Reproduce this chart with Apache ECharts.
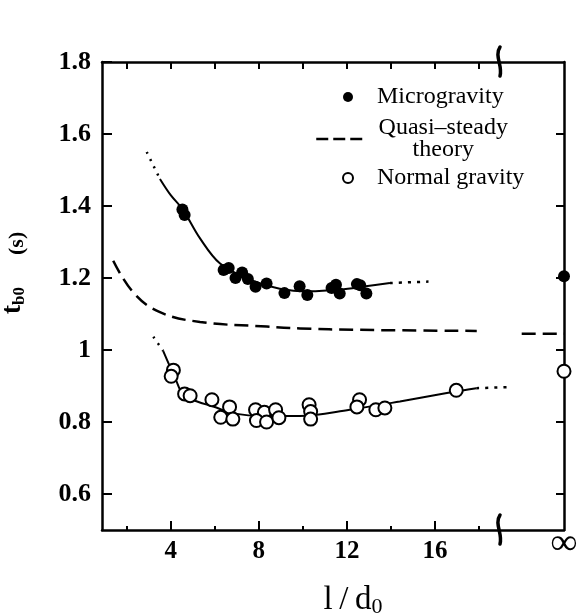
<!DOCTYPE html>
<html><head><meta charset="utf-8">
<script src="https://cdn.jsdelivr.net/npm/echarts@6/dist/echarts.min.js"></script>
<style>html,body{margin:0;padding:0;background:#fff}#c{width:579px;height:613px}</style>
</head><body><div id="c"></div>
<script>
// ---- data ----
const X_MIN = 0.88, X_MAX = 21.85;     // X_MAX is the "∞" column
const Y_MIN = 0.5, Y_MAX = 1.8;
const xTickLabels = [4, 8, 12, 16];
const xMajorTicks = [4, 8, 12, 16];
const xMinorTicks = [2, 6, 10, 14, 18];
const xTopTicks = [2, 4, 6, 8, 10, 12, 14, 16, 18];
const yTicks = [0.6, 0.8, 1, 1.2, 1.4, 1.6, 1.8];
const breakAt = 18.9;

const mgX = [4.53,4.63,6.40,6.63,6.94,7.24,7.50,7.85,8.35,9.16,9.85,10.2,11.3,11.5,11.67,12.45,12.6,12.88];
const mgY = [1.39,1.375,1.222,1.228,1.20,1.215,1.197,1.176,1.185,1.158,1.177,1.153,1.172,1.181,1.157,1.183,1.18,1.157];
const mgInfY = 1.205;

const ngX = [4.12,4.02,4.63,4.88,5.87,6.67,6.27,6.82,7.85,8.25,8.76,7.89,8.35,8.91,10.28,10.35,10.35,12.57,12.45,13.31,13.72,16.96];
const ngY = [0.944,0.927,0.878,0.873,0.862,0.842,0.813,0.808,0.834,0.827,0.834,0.804,0.80,0.812,0.848,0.829,0.808,0.862,0.842,0.834,0.839,0.888];
const ngInfY = 0.941;

const mgFitDotLX = [2.91, 3.51], mgFitDotLY = [1.55, 1.475];
const mgFitX = [3.51,4.0,4.55,5.33,6.24,7.54,8.95,10.3,11.7,12.85,13.95];
const mgFitY = [1.475,1.43,1.39,1.31,1.24,1.197,1.17,1.163,1.168,1.177,1.186];
const mgFitDotRX = [13.95, 15.7], mgFitDotRY = [1.186, 1.19];

const ngFitDotLX = [3.21, 3.66], ngFitDotLY = [1.037, 0.997];
const ngFitX = [3.66,4.22,4.57,5.2,5.93,6.84,8.3,9.85,12.12,14.4,16.66,17.87];
const ngFitY = [0.997,0.919,0.876,0.857,0.843,0.824,0.817,0.817,0.834,0.857,0.882,0.894];
const ngFitDotRX = [17.87, 19.4], ngFitDotRY = [0.894, 0.897];

const thLeftX = [1.39,2.30,3.51,5.33,8.36,9.87,12.5,17.89];
const thLeftY = [1.248,1.16,1.105,1.078,1.065,1.06,1.056,1.053];
const thRightX = [19.93, 21.85];
const thRightY = [1.045, 1.045];

// ---- helpers ----
const zip = (xs, ys) => xs.map((x, i) => [x, ys[i]]);
const FONT = 'Liberation Serif';
const BLACK = '#000';

const chart = echarts.init(document.getElementById('c'), null, {renderer: 'canvas'});

const fitLine = (data, type, width) => ({
  type: 'line', data, smooth: 0.35, symbol: 'none',
  lineStyle: {color: BLACK, width, type}, silent: true, z: 2, xAxisIndex: 0, yAxisIndex: 0
});

const baseX = {type: 'value', min: X_MIN, max: X_MAX, splitLine: {show: false}};
const option = {
  animation: false,
  backgroundColor: '#fff',
  grid: {left: 102, right: 15, top: 62, bottom: 83, containLabel: false, outerBoundsMode: 'none'},
  xAxis: [
    Object.assign({}, baseX, {
      position: 'bottom',
      name: '{m|l\u2009/\u2009d}{s|0}',
      nameLocation: 'middle', nameGap: 52,
      nameTextStyle: {padding: [0, 0, 0, 40], rich: {
        m: {fontFamily: FONT, fontSize: 33, lineHeight: 36, color: BLACK},
        s: {fontFamily: FONT, fontSize: 22, lineHeight: 22, verticalAlign: 'bottom', color: BLACK}
      }},
      axisLine: {show: true, lineStyle: {color: BLACK, width: 2.5}},
      axisTick: {show: true, inside: true, length: 9, customValues: xMajorTicks, lineStyle: {color: BLACK, width: 2}},
      axisLabel: {
        customValues: xTickLabels.concat([X_MAX]),
        formatter: v => (v === X_MAX ? '{inf|\u221E}' : String(v)),
        fontFamily: FONT, fontSize: 25, fontWeight: 'bold', color: BLACK, margin: 9,
        rich: {inf: {fontFamily: FONT, fontSize: 37, lineHeight: 10, fontWeight: 'bold', color: BLACK}}
      }
    }),
    Object.assign({}, baseX, {
      position: 'bottom',
      axisLine: {show: false},
      axisTick: {show: true, inside: true, length: 4, customValues: xMinorTicks, lineStyle: {color: BLACK, width: 2}},
      axisLabel: {show: false}
    }),
    Object.assign({}, baseX, {
      position: 'top',
      axisLine: {show: true, lineStyle: {color: BLACK, width: 2.5}},
      axisTick: {show: true, inside: true, length: 7, customValues: xTopTicks, lineStyle: {color: BLACK, width: 2}},
      axisLabel: {show: false}
    })
  ],
  yAxis: [
    {
      type: 'value', min: Y_MIN, max: Y_MAX, position: 'left',
      name: '{t|t}{s|b0}{g| }{p|(s)}',
      nameLocation: 'middle', nameRotate: 90, nameGap: 74,
      nameTextStyle: {padding: [0, 0, 0, 46], rich: {
        t: {fontFamily: FONT, fontSize: 28, lineHeight: 30, fontWeight: 'bold', color: BLACK},
        s: {fontFamily: FONT, fontSize: 17, lineHeight: 17, verticalAlign: 'bottom', fontWeight: 'bold', color: BLACK},
        g: {width: 32, fontSize: 10},
        p: {fontFamily: FONT, fontSize: 22, lineHeight: 22, verticalAlign: 'bottom', fontWeight: 'bold', color: BLACK}
      }},
      splitLine: {show: false},
      axisLine: {show: true, lineStyle: {color: BLACK, width: 2.5}},
      axisTick: {show: true, inside: true, length: 10, customValues: yTicks, lineStyle: {color: BLACK, width: 2}},
      axisLabel: {customValues: yTicks, formatter: v => String(v),
        fontFamily: FONT, fontSize: 26, fontWeight: 'bold', color: BLACK, margin: 11}
    },
    {
      type: 'value', min: Y_MIN, max: Y_MAX, position: 'right',
      splitLine: {show: false},
      axisLine: {show: true, lineStyle: {color: BLACK, width: 2.5}},
      axisTick: {show: true, inside: true, length: 8, customValues: yTicks.slice(0, -1), lineStyle: {color: BLACK, width: 2}},
      axisLabel: {show: false}
    }
  ],
  legend: [
    {
      data: ['Microgravity'], left: 338, top: 80, selectedMode: false,
      itemWidth: 48, itemHeight: 10,
      itemStyle: {color: BLACK, borderWidth: 0, opacity: 1},
      textStyle: {fontFamily: FONT, fontSize: 24, lineHeight: 24, color: BLACK}
    },
    {
      data: ['Quasi\u2013steady theory'], left: 310, top: 111, selectedMode: false,
      itemWidth: 47, itemHeight: 10,
      itemStyle: {color: 'rgba(0,0,0,0)', borderWidth: 0, opacity: 0},
      lineStyle: {color: BLACK, width: 2.5, type: [12, 5]},
      formatter: () => '{c|Quasi\u2013steady}\n{c|theory}',
      textStyle: {fontFamily: FONT, fontSize: 24, color: BLACK, rich: {
        c: {fontFamily: FONT, fontSize: 24, lineHeight: 22, width: 150, align: 'center', color: BLACK}
      }}
    },
    {
      data: ['Normal gravity'], left: 337, top: 161, selectedMode: false,
      itemWidth: 48, itemHeight: 10,
      itemStyle: {color: '#fff', borderColor: BLACK, borderWidth: 2, opacity: 1},
      textStyle: {fontFamily: FONT, fontSize: 24, lineHeight: 24, color: BLACK}
    }
  ],
  series: [
    fitLine(zip(mgFitDotLX, mgFitDotLY), [2, 6], 2.5),
    fitLine(zip(mgFitX, mgFitY), 'solid', 2),
    fitLine(zip(mgFitDotRX, mgFitDotRY), [3, 6], 2.5),
    fitLine(zip(ngFitDotLX, ngFitDotLY), [2, 6], 2.5),
    fitLine(zip(ngFitX, ngFitY), 'solid', 2),
    fitLine(zip(ngFitDotRX, ngFitDotRY), [3, 6], 2.5),
    {
      name: 'Quasi\u2013steady theory', type: 'line', smooth: 0.4, symbol: 'none',
      connectNulls: false, clip: false,
      data: zip(thLeftX, thLeftY).concat([['-', '-']], zip(thRightX, thRightY)),
      itemStyle: {color: BLACK},
      lineStyle: {color: BLACK, width: 2.5, type: [14, 7]}, z: 2
    },
    {
      name: 'Microgravity', type: 'scatter', symbol: 'circle', symbolSize: 12, clip: false,
      data: zip(mgX, mgY).concat([[X_MAX, mgInfY]]),
      itemStyle: {color: BLACK, opacity: 1}, z: 4
    },
    {
      name: 'Normal gravity', type: 'scatter', symbol: 'circle', symbolSize: 13, clip: false,
      data: zip(ngX, ngY).concat([[X_MAX, ngInfY]]),
      itemStyle: {color: '#fff', borderColor: BLACK, borderWidth: 2, opacity: 1}, z: 4
    }
  ]
};
chart.setOption(option);

// axis-break marks on the top and bottom frame
const pTop = chart.convertToPixel({xAxisIndex: 0, yAxisIndex: 0}, [breakAt, Y_MAX]);
const pBot = chart.convertToPixel({xAxisIndex: 0, yAxisIndex: 0}, [breakAt, Y_MIN]);
const mark = (p) => ({
  type: 'bezierCurve', silent: true, z: 10,
  shape: {x1: p[0] + 1, y1: p[1] - 15, cpx1: p[0] - 5, cpy1: p[1] - 6, cpx2: p[0] + 4, cpy2: p[1] + 4, x2: p[0] + 1, y2: p[1] + 14},
  style: {stroke: BLACK, lineWidth: 3.5, lineCap: 'round', fill: null}
});
chart.setOption({graphic: {elements: [mark(pTop), mark(pBot)]}});
</script>
</body></html>
